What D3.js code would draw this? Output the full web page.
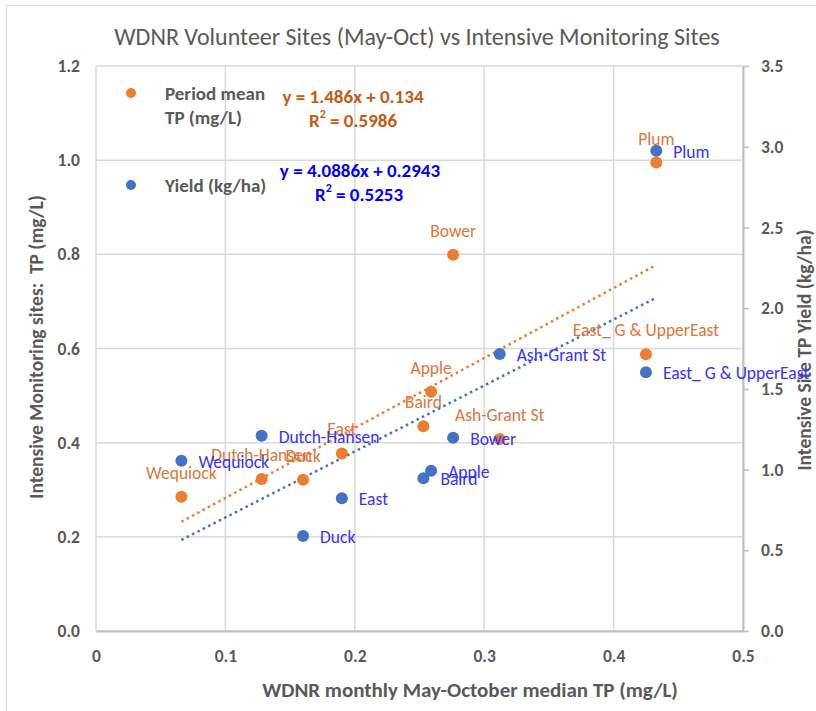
<!DOCTYPE html>
<html>
<head>
<meta charset="utf-8">
<script src="https://cdn.jsdelivr.net/npm/d3@7"></script>
<style>
  body { margin: 0; background: #fff; }
  text { font-family: Carlito, Lato, "Open Sans", sans-serif; }
</style>
</head>
<body>
<div id="chart"></div>
<script>
// site names, shared by both series
const sites = ["Wequiock", "Dutch-Hansen", "Duck", "East", "Baird", "Apple", "Bower", "Ash-Grant St", "East_ G & UpperEast", "Plum"];
// x: WDNR monthly May-October median TP (mg/L)
const wdnrMedianTP = [0.066, 0.128, 0.160, 0.190, 0.253, 0.259, 0.276, 0.312, 0.425, 0.433];
// left axis: period mean TP (mg/L)
const periodMeanTP = [0.285, 0.323, 0.321, 0.377, 0.435, 0.508, 0.799, 0.408, 0.588, 0.995];
// right axis: yield (kg/ha)
const yieldKgHa = [1.055, 1.21, 0.588, 0.822, 0.946, 0.993, 1.197, 1.716, 1.603, 2.975];
// trendline coefficients as printed on the chart [slope, intercept, r2]
const tpFit = [1.486, 0.134, 0.5986];
const yieldFit = [4.0886, 0.2943, 0.5253];
const xTicks = [0, 0.1, 0.2, 0.3, 0.4, 0.5];
const leftTicks = [0, 0.2, 0.4, 0.6, 0.8, 1.0, 1.2];
const rightTicks = [0, 0.5, 1.0, 1.5, 2.0, 2.5, 3.0, 3.5];

const width = 816;
const height = 711;
const margin = { left: 96, right: 73, top: 66, bottom: 80 };

const orange = "#ED7D31";
const blue = "#4472C4";
const grey = "#595959";

const svg = d3.select("#chart")
  .append("svg")
  .attr("width", width)
  .attr("height", height);

// chart area border (only left/top visible)
svg.append("rect")
  .attr("x", 6.5).attr("y", 5.5)
  .attr("width", 1000).attr("height", 1000)
  .attr("fill", "none")
  .attr("stroke", "#d9d9d9");

const x = d3.scaleLinear().domain([0, 0.5]).range([margin.left, width - margin.right]);
const yL = d3.scaleLinear().domain([0, 1.2]).range([height - margin.bottom, margin.top]);
const yR = d3.scaleLinear().domain([0, 3.5]).range([height - margin.bottom, margin.top]);

// grid
svg.append("g")
  .selectAll("line")
  .data(leftTicks)
  .enter()
  .append("line")
  .attr("x1", x(0)).attr("x2", x(0.5))
  .attr("y1", d => yL(d)).attr("y2", d => yL(d))
  .attr("stroke", "#d9d9d9")
  .attr("stroke-width", 1.5);

svg.append("g")
  .selectAll("line")
  .data(xTicks)
  .enter()
  .append("line")
  .attr("x1", d => x(d)).attr("x2", d => x(d))
  .attr("y1", yL(0)).attr("y2", yL(1.2))
  .attr("stroke", "#d9d9d9")
  .attr("stroke-width", 1.5);

// axes
const styleTicks = g => g.selectAll("text")
  .attr("fill", grey)
  .style("font-size", "17.5px")
  .style("font-weight", "bold");

const gx = svg.append("g")
  .attr("transform", `translate(0, ${yL(0)})`)
  .call(d3.axisBottom(x).tickValues(xTicks).tickSize(0).tickPadding(19)
    .tickFormat(d => d === 0 ? "0" : d3.format(".1f")(d)));
gx.select(".domain").attr("stroke", "#bfbfbf").attr("stroke-width", 2);
gx.call(styleTicks);

const gl = svg.append("g")
  .attr("transform", `translate(${x(0)}, 0)`)
  .call(d3.axisLeft(yL).tickValues(leftTicks).tickSize(0).tickPadding(16).tickFormat(d3.format(".1f")));
gl.select(".domain").remove();
gl.call(styleTicks);

const gr = svg.append("g")
  .attr("transform", `translate(${x(0.5)}, 0)`)
  .call(d3.axisRight(yR).tickValues(rightTicks).tickSize(6).tickSizeOuter(0).tickPadding(12).tickFormat(d3.format(".1f")));
gr.select(".domain").attr("stroke", "#bfbfbf").attr("stroke-width", 2);
gr.selectAll(".tick line").attr("stroke", "#bfbfbf").attr("stroke-width", 1.5);
gr.call(styleTicks);

// titles
svg.append("text")
  .attr("x", 417).attr("y", 45)
  .attr("text-anchor", "middle")
  .attr("fill", grey)
  .style("font-size", "24px")
  .text("WDNR Volunteer Sites (May-Oct) vs Intensive Monitoring Sites");

svg.append("text")
  .attr("x", 470).attr("y", 697)
  .attr("text-anchor", "middle")
  .attr("fill", grey)
  .style("font-size", "21px")
  .style("font-weight", "bold")
  .text("WDNR monthly May-October median TP (mg/L)");

svg.append("text")
  .attr("transform", `translate(43, 347) rotate(-90)`)
  .attr("text-anchor", "middle")
  .attr("fill", grey)
  .style("font-size", "19.5px")
  .style("font-weight", "bold")
  .style("white-space", "pre")
  .text("Intensive Monitoring sites:  TP (mg/L)");

svg.append("text")
  .attr("transform", `translate(811, 350) rotate(-90)`)
  .attr("text-anchor", "middle")
  .attr("fill", grey)
  .style("font-size", "19.5px")
  .style("font-weight", "bold")
  .text("Intensive Site TP Yield (kg/ha)");

// trendlines
const xr = d3.extent(wdnrMedianTP);
const trend = (fit, yScale, color) => svg.append("line")
  .attr("x1", x(xr[0])).attr("y1", yScale(fit[0] * xr[0] + fit[1]))
  .attr("x2", x(xr[1])).attr("y2", yScale(fit[0] * xr[1] + fit[1]))
  .attr("stroke", color)
  .attr("stroke-width", 2.5)
  .attr("stroke-dasharray", "2.5 3.5");
trend(tpFit, yL, orange);
trend(yieldFit, yR, blue);

// points
const tpPts = sites.map((s, i) => ({ name: s, x: wdnrMedianTP[i], y: periodMeanTP[i] }));
const yPts = sites.map((s, i) => ({ name: s, x: wdnrMedianTP[i], y: yieldKgHa[i] }));

svg.append("g").selectAll("circle")
  .data(tpPts).enter().append("circle")
  .attr("cx", d => x(d.x)).attr("cy", d => yL(d.y))
  .attr("r", 6).attr("fill", orange);

svg.append("g").selectAll("circle")
  .data(yPts).enter().append("circle")
  .attr("cx", d => x(d.x)).attr("cy", d => yR(d.y))
  .attr("r", 6).attr("fill", blue);

// data labels
svg.append("g").selectAll("text")
  .data(tpPts).enter().append("text")
  .attr("x", d => x(d.x)).attr("y", d => yL(d.y) - 24)
  .attr("text-anchor", "middle")
  .attr("dominant-baseline", "central")
  .attr("fill", "#D9773A")
  .style("font-size", "17.5px")
  .text(d => d.name);

svg.append("g").selectAll("text")
  .data(yPts).enter().append("text")
  .attr("x", d => x(d.x) + 17).attr("y", d => yR(d.y) + 1)
  .attr("dominant-baseline", "central")
  .attr("fill", "#3333FF")
  .style("font-size", "17.5px")
  .text(d => d.name);

// legend
const legend = svg.append("g");
legend.append("circle").attr("cx", 131).attr("cy", 93).attr("r", 5).attr("fill", orange);
legend.append("circle").attr("cx", 131).attr("cy", 185).attr("r", 5).attr("fill", blue);
const legText = (t, yy) => legend.append("text")
  .attr("x", 165).attr("y", yy)
  .attr("dominant-baseline", "central")
  .attr("fill", grey)
  .style("font-size", "19px")
  .style("font-weight", "bold")
  .text(t);
legText("Period mean", 93);
legText("TP (mg/L)", 117);
legText("Yield (kg/ha)", 185);

// trend equations
const eq = (t, xx, yy, color) => svg.append("text")
  .attr("x", xx).attr("y", yy)
  .attr("text-anchor", "middle")
  .attr("dominant-baseline", "central")
  .attr("fill", color)
  .style("font-size", "19px")
  .style("font-weight", "bold")
  .text(t);
const r2 = (v, xx, yy, color) => {
  const t = eq("", xx, yy, color);
  t.append("tspan").text("R");
  t.append("tspan").attr("dy", -6).style("font-size", "12px").text("2");
  t.append("tspan").attr("dy", 6).text(" = " + v);
};
eq(`y = ${tpFit[0]}x + ${tpFit[1]}`, 353, 96, "#C55A11");
r2(tpFit[2], 353, 120, "#C55A11");
eq(`y = ${yieldFit[0]}x + ${yieldFit[1]}`, 360, 170, "#0000FF");
r2(yieldFit[2], 359, 194, "#0000FF");
</script>
</body>
</html>
